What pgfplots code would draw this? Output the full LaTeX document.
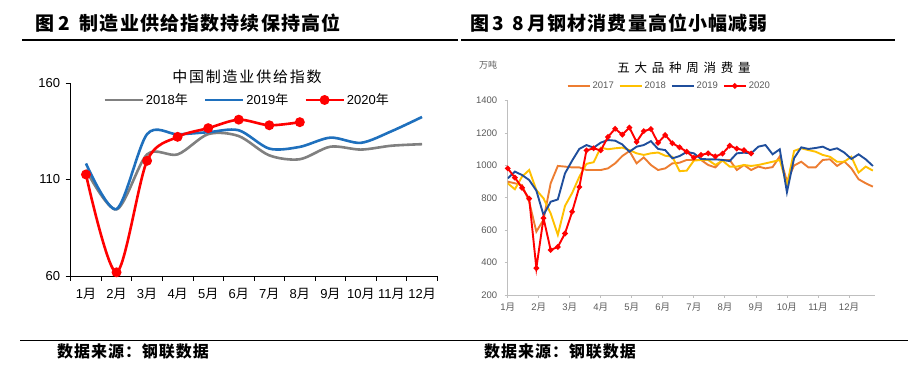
\documentclass[border=0pt]{standalone}
\usepackage{pgfplots}
\pgfplotsset{compat=1.18}
\usepackage{pgfplotstable}
\usepackage{fontspec}
\setmainfont{Liberation Sans}
\newfontfamily\cjk{Noto Sans CJK SC}
\definecolor{g18}{HTML}{808080}
\definecolor{b19}{HTML}{1F70BD}
\definecolor{r20}{HTML}{FF0000}
\definecolor{o17}{HTML}{ED7D31}
\definecolor{y18}{HTML}{FFC000}
\definecolor{n19}{HTML}{1F4E9C}
\definecolor{tk}{HTML}{595959}

% weekly consumption, w = 0..51
\pgfplotstableread{
w v
0 900
1 890
2 879
3 776
4 591
5 665
6 890
7 997
8 993
9 988
10 988
11 972
12 972
13 972
14 982
15 1013
16 1058
17 1089
18 1013
19 1050
20 1003
21 972
22 982
23 1013
24 1017
25 1034
26 1034
27 1034
28 1003
29 988
30 1034
31 1034
32 972
33 1003
34 972
35 993
36 982
37 990
38 1056
39 902
40 1000
41 1023
42 988
43 988
44 1034
45 1038
46 997
47 1025
48 982
49 915
50 890
51 869
}\tabA
\pgfplotstableread{
w v
0 890
1 853
2 931
3 972
4 848
5 797
6 704
7 571
8 750
9 830
10 930
11 1010
12 1020
13 1110
14 1100
15 1106
16 1110
17 1095
18 1075
19 1065
20 1075
21 1080
22 1060
23 1054
24 965
25 968
26 1030
27 1034
28 1034
29 1003
30 1030
31 993
32 993
33 1003
34 997
35 1003
36 1013
37 1023
38 1034
39 879
40 1090
41 1106
42 1095
43 1085
44 1065
45 1054
46 1023
47 1023
48 1054
49 956
50 993
51 968
}\tabB
\pgfplotstableread{
w v
0 920
1 962
2 941
3 910
4 845
5 694
6 776
7 790
8 951
9 1030
10 1102
11 1126
12 1110
13 1141
14 1157
15 1153
16 1130
17 1085
18 1116
19 1126
20 1150
21 1102
22 1095
23 1044
24 1058
25 1083
26 1075
27 1040
28 1038
29 1038
30 1034
31 1027
32 1075
33 1079
34 1075
35 1116
36 1126
37 1069
38 1100
39 835
40 1045
41 1112
42 1102
43 1108
44 1116
45 1095
46 1106
47 1080
48 1040
49 1069
50 1038
51 997
}\tabC
\pgfplotstableread{
w v
0 982
1 925
2 862
3 795
4 366
5 675
6 478
7 497
8 580
9 714
10 867
11 1093
12 1106
13 1093
14 1176
15 1227
16 1190
17 1234
18 1145
19 1212
20 1225
21 1140
22 1188
23 1137
24 1112
25 1085
26 1048
27 1065
28 1075
29 1056
30 1073
31 1122
32 1104
33 1094
34 1074
}\tabD

\begin{document}
\begin{tikzpicture}[x=1pt,y=1pt]
\path[use as bounding box] (0,0) rectangle (917,390);

% ---- headings ----
\node[anchor=base west, inner sep=0] at (35,359) {\cjk\bfseries\fontsize{19}{19}\selectfont\addfontfeature{LetterSpace=6}图\hspace{4pt}2\hspace{10pt}制造业供给指数持续保持高位};
\node[anchor=base west, inner sep=0] at (470,359) {\cjk\bfseries\fontsize{19}{19}\selectfont\addfontfeature{LetterSpace=6}图\hspace{3pt}3\hspace{9pt}8\hspace{3pt}月钢材消费量高位小幅减弱};
\draw[line width=1.1pt] (22,350) -- (458,350);
\draw[line width=1.1pt] (461,350) -- (895,350);
\draw[line width=1pt] (20,49) -- (908,49);
\node[anchor=west, inner sep=0] at (57,38) {\cjk\bfseries\fontsize{16}{16}\selectfont\addfontfeature{LetterSpace=6}数据来源：钢联数据};
\node[anchor=west, inner sep=0] at (484,38) {\cjk\bfseries\fontsize{16}{16}\selectfont\addfontfeature{LetterSpace=6}数据来源：钢联数据};

% ---- left chart ----
\begin{axis}[
  at={(70.7pt,114pt)}, anchor=south west, scale only axis,
  width=366.6pt, height=193pt,
  xmin=0.5, xmax=12.5, ymin=60, ymax=160,
  axis lines=left, axis line style={-, black, line width=0.8pt},
  clip=false,
  xtick={1,...,12},
  xticklabels={1{\cjk 月},2{\cjk 月},3{\cjk 月},4{\cjk 月},5{\cjk 月},6{\cjk 月},7{\cjk 月},8{\cjk 月},9{\cjk 月},10{\cjk 月},11{\cjk 月},12{\cjk 月}},
  minor xtick={0.5,1.5,...,12.5},
  ytick={60,110,160},
  tick align=outside,
  major x tick style={draw=none},
  minor tick length=5pt, major tick length=5pt,
  tick style={black, line width=0.8pt},
  tick label style={font=\fontsize{13}{13}\selectfont, black},
  xticklabel style={yshift=-4pt, inner xsep=0pt},
  yticklabel style={xshift=-2pt},
  /pgf/number format/assume math mode=true,
  legend columns=3,
  legend style={at={(0.481,0.912)}, anchor=center, draw=none, fill=none,
    font=\fontsize{13}{13}\selectfont,
    /tikz/every even column/.append style={column sep=14pt},
    inner sep=0pt},
  legend cell align=left,
  legend image code/.code={\draw[mark repeat=2,mark phase=2,#1] plot coordinates {(0pt,0pt) (19pt,0pt) (38pt,0pt)};},
]
\addplot[g18, line width=2.6pt, smooth, tension=0.5] coordinates {
 (1,115) (2,94.5) (3,123) (4,123) (5,133.5) (6,132.5) (7,122.5) (8,120.5) (9,127) (10,125.5) (11,127.5) (12,128.3)};
\addlegendentry{2018{\cjk 年}}
\addplot[b19, line width=2.6pt, smooth, tension=0.5] coordinates {
 (1,118.3) (2,94.7) (3,133.5) (4,133.4) (5,134.5) (6,135.5) (7,126) (8,126.9) (9,131.7) (10,129) (11,135) (12,142.4)};
\addlegendentry{2019{\cjk 年}}
\addplot[r20, line width=2.6pt, smooth, tension=0.5, mark=*, mark size=3.6pt, mark options={fill=r20, draw=r20}] coordinates {
 (1,112.6) (2,61.9) (3,119.7) (4,132.1) (5,136.6) (6,141) (7,138.1) (8,139.7)};
\addlegendentry{2020{\cjk 年}}
\end{axis}
\node at (247,313) {\cjk\fontsize{15}{15}\selectfont\addfontfeature{LetterSpace=12}中国制造业供给指数};

% ---- right chart ----
\begin{axis}[
  at={(507.7pt,95pt)}, anchor=south west, scale only axis,
  width=367.3pt, height=194.3pt,
  xmin=0, xmax=51.3, ymin=200, ymax=1400,
  axis lines=left, axis line style={-, draw=black!25, line width=0.8pt},
  ytick={200,400,...,1400},
  xtick={0,4.333,8.667,13,17.333,21.667,26,30.333,34.667,39,43.333,47.667},
  xticklabels={1{\cjk 月},2{\cjk 月},3{\cjk 月},4{\cjk 月},5{\cjk 月},6{\cjk 月},7{\cjk 月},8{\cjk 月},9{\cjk 月},10{\cjk 月},11{\cjk 月},12{\cjk 月}},
  tick align=outside, major tick length=3pt,
  tick style={draw=black!25, line width=0.8pt},
  tick label style={font=\fontsize{9.5}{9.5}\selectfont, text=tk},
  xticklabel style={yshift=-1pt},
  yticklabel style={xshift=-4pt},
  /pgf/number format/assume math mode=true,
  /pgf/number format/1000 sep={},
  legend columns=4,
  legend style={at={(0.44,1.076)}, anchor=center, draw=none, fill=none,
    font=\fontsize{9.5}{9.5}\selectfont, text=tk,
    /tikz/every even column/.append style={column sep=3pt},
    inner sep=0pt},
  legend image code/.code={\draw[mark repeat=2,mark phase=2,#1] plot coordinates {(0pt,0pt) (11pt,0pt) (22pt,0pt)};},
]
\addplot[o17, line width=1.9pt] table[x=w,y=v] {\tabA};
\addlegendentry{2017}
\addplot[y18, line width=1.9pt] table[x=w,y=v] {\tabB};
\addlegendentry{2018}
\addplot[n19, line width=1.9pt] table[x=w,y=v] {\tabC};
\addlegendentry{2019}
\addplot[r20, line width=1.9pt, mark=*, mark size=1.7pt, mark options={fill=r20,draw=r20}] table[x=w,y=v] {\tabD};
\addlegendentry{2020}
\end{axis}
\node at (684,322) {\cjk\fontsize{12.5}{12.5}\selectfont\addfontfeature{LetterSpace=38}五大品种周消费量};
\node[text=tk] at (488,325) {\cjk\fontsize{9}{9}\selectfont 万吨};
\end{tikzpicture}
\end{document}
